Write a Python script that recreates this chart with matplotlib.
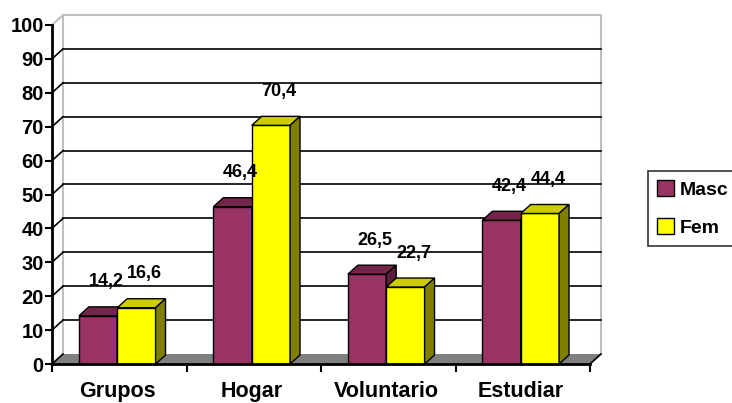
import matplotlib
matplotlib.use("Agg")
import matplotlib.pyplot as plt
from matplotlib.patches import Rectangle, Polygon, Patch

# data
categories = ["Grupos", "Hogar", "Voluntario", "Estudiar"]
series_names = ["Masc", "Fem"]
masc = [14.2, 46.4, 26.5, 42.4]
fem = [16.6, 70.4, 22.7, 44.4]
labels_masc = ["14,2", "46,4", "26,5", "42,4"]
labels_fem = ["16,6", "70,4", "22,7", "44,4"]
yticks = list(range(0, 101, 10))

plt.rcParams['font.family'] = ['Liberation Sans', 'DejaVu Sans']
plt.rcParams['font.weight'] = 'bold'

# 3D look: offsets in data units
WDX, WDY = 0.082, 2.95    # wall / floor depth
BDX, BDY = 0.074, 2.65    # bar depth
BW = 0.285                # bar width
OFF = 0.2                 # left gap inside category

fig = plt.figure(figsize=(7.32, 4.03), dpi=100)
ax = fig.add_axes([52 / 732, 39 / 403, 538 / 732, 339 / 403])
ax.set_xlim(0, 4)
ax.set_ylim(0, 100)
for s in ax.spines.values():
    s.set_visible(False)

wall = '#c0c0c0'
# back wall edges
ax.plot([WDX, WDX, 4 + WDX, 4 + WDX], [WDY, 100 + WDY, 100 + WDY, WDY],
        color=wall, lw=1.5, clip_on=False, zorder=1)
ax.plot([0, WDX], [100, 100 + WDY], color=wall, lw=1.5, clip_on=False, zorder=1)
# floor
ax.add_patch(Polygon([(0, 0), (4, 0), (4 + WDX, WDY), (WDX, WDY)], closed=True,
                     facecolor='#808080', edgecolor='none', clip_on=False, zorder=1))
ax.plot([4, 4 + WDX], [0, WDY], color='black', lw=1.2, clip_on=False, zorder=2)
# gridlines on back wall + side diagonals
for v in yticks[1:-1]:
    ax.plot([WDX, 4 + WDX], [v + WDY, v + WDY], color='black', lw=1.2, clip_on=False, zorder=1)
for v in yticks[:-1]:
    ax.plot([0, WDX], [v, v + WDY], color='black', lw=1.2, clip_on=False, zorder=2)

# axes lines
ax.plot([0, 0], [0, 100], color='black', lw=2, clip_on=False, zorder=2)
ax.plot([0, 4], [0, 0], color='black', lw=2, clip_on=False, zorder=5)


def bar3d(x, h, front, top, side):
    ax.add_patch(Rectangle((x, 0), BW, h, facecolor=front, edgecolor='black',
                           lw=1, clip_on=False, zorder=3))
    ax.add_patch(Polygon([(x, h), (x + BW, h), (x + BW + BDX, h + BDY), (x + BDX, h + BDY)],
                         closed=True, facecolor=top, edgecolor='black', lw=1,
                         clip_on=False, zorder=3))
    ax.add_patch(Polygon([(x + BW, 0), (x + BW + BDX, BDY), (x + BW + BDX, h + BDY), (x + BW, h)],
                         closed=True, facecolor=side, edgecolor='black', lw=1,
                         clip_on=False, zorder=3))


masc_cols = ('#993366', '#732649', '#5a1f3c')
fem_cols = ('#ffff00', '#cccc00', '#808000')
for i in range(len(categories)):
    xm = i + OFF
    xf = i + OFF + BW
    bar3d(xm, masc[i], *masc_cols)
    bar3d(xf, fem[i], *fem_cols)
    ax.text(xm + BW / 2 + 0.06, masc[i] + 10, labels_masc[i], ha='center', va='center',
            fontsize=13, zorder=6)
    ax.text(xf + BW / 2 + 0.06, fem[i] + 10, labels_fem[i], ha='center', va='center',
            fontsize=13, zorder=6)

# ticks
ax.set_yticks(yticks)
ax.set_yticklabels([str(v) for v in yticks], fontsize=14.5, fontweight='bold')
ax.tick_params(axis='y', direction='out', length=5, width=1.5, pad=1)
ax.set_xticks(range(5))
ax.set_xticklabels([])
ax.tick_params(axis='x', which='major', direction='out', length=6, width=1.5)
ax.set_xticks([i + OFF + BW for i in range(len(categories))], minor=True)
ax.set_xticklabels(categories, minor=True, fontsize=15.5, fontweight='bold')
ax.tick_params(axis='x', which='minor', length=0, pad=12)

handles = [Patch(facecolor=masc_cols[0], edgecolor='black', lw=1),
           Patch(facecolor=fem_cols[0], edgecolor='black', lw=1)]
leg = fig.legend(handles, series_names, loc='upper left', mode='expand',
                 bbox_to_anchor=(648 / 732, 1 - 247 / 403, 130 / 732, 76 / 403),
                 borderaxespad=0, prop={'size': 14, 'weight': 'bold'},
                 frameon=True, fancybox=False,
                 handlelength=0.9, handleheight=0.9, handletextpad=0.3,
                 borderpad=0.45, labelspacing=1.0)
leg.get_frame().set_edgecolor('black')
leg.get_frame().set_linewidth(1.2)

fig.savefig("out.png", dpi=100)
